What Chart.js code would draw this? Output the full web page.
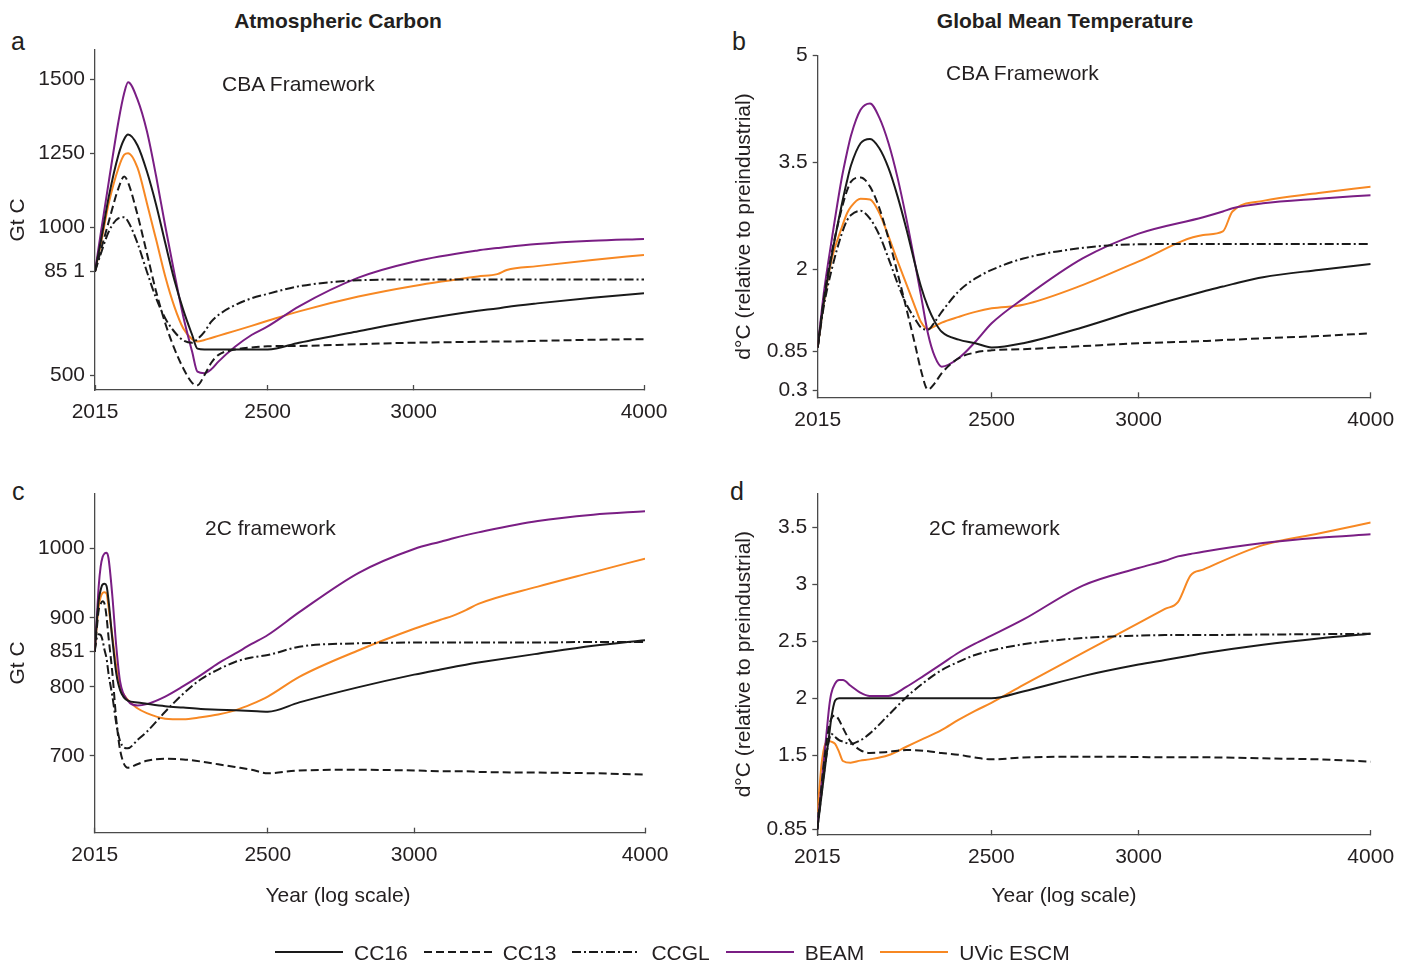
<!DOCTYPE html>
<html>
<head>
<meta charset="utf-8">
<title>Atmospheric Carbon / Global Mean Temperature</title>
<script src="https://cdn.jsdelivr.net/npm/chart.js@4.4.1/dist/chart.umd.min.js"></script>
<style>
    body { margin: 0; background: #fff; font-family: "Liberation Sans", Arial, Helvetica, sans-serif; color: #231f20; }
    #page { position: relative; width: 1410px; height: 964px; overflow: hidden; }
    canvas { position: absolute; }
    .txt { position: absolute; white-space: nowrap; font-size: 21px; line-height: 21px; }
    .title { font-weight: bold; transform: translateX(-50%); }
    .center { transform: translateX(-50%); }
    .letter { font-size: 25px; line-height: 25px; }
    #legend { position: absolute; left: 275px; top: 941.5px; display: flex; align-items: center; font-size: 21px; line-height: 21px; white-space: nowrap; }
    #legend svg { margin-right: 11px; }
    #legend span { margin-right: 16px; }
</style>
</head>
<body>
<div id="page">
    <div class="txt title" style="left:338px; top:10px;">Atmospheric Carbon</div>
    <div class="txt title" style="left:1065px; top:10px;">Global Mean Temperature</div>

    <div class="txt letter" style="left:11px; top:29px;">a</div>
    <div class="txt letter" style="left:732px; top:29px;">b</div>
    <div class="txt letter" style="left:12px; top:479px;">c</div>
    <div class="txt letter" style="left:730px; top:479px;">d</div>

    <canvas id="chartA" width="700" height="430" style="left:0px; top:0px;"></canvas>
    <canvas id="chartB" width="690" height="440" style="left:720px; top:0px;"></canvas>
    <canvas id="chartC" width="700" height="470" style="left:0px; top:450px;"></canvas>
    <canvas id="chartD" width="690" height="470" style="left:720px; top:450px;"></canvas>

    <div class="txt" style="left:222px; top:73px;">CBA Framework</div>
    <div class="txt" style="left:946px; top:62px;">CBA Framework</div>
    <div class="txt" style="left:205px; top:517px;">2C framework</div>
    <div class="txt" style="left:929px; top:517px;">2C framework</div>

    <div class="txt center" style="left:338px; top:884px;">Year (log scale)</div>
    <div class="txt center" style="left:1064px; top:884px;">Year (log scale)</div>

    <div id="legend"></div>
</div>

<script>
const FONT = "'Liberation Sans', Arial, Helvetica, sans-serif";
const INK = "#231f20";
const AXIS = "#4a4a4a";

// years (x, log scale)
const yearsCBA = [2015, 2030, 2050, 2075, 2090, 2100, 2125, 2150, 2175, 2200, 2225, 2250, 2275, 2290, 2310, 2330, 2350, 2400, 2450, 2500, 2600, 2800, 3000, 3250, 3330, 3370, 3500, 3750, 4000];
const years2C = [2015, 2020, 2025, 2030, 2035, 2040, 2045, 2050, 2060, 2070, 2080, 2100, 2125, 2150, 2200, 2250, 2300, 2350, 2400, 2450, 2500, 2600, 2800, 3000, 3100, 3150, 3200, 3250, 3500, 3750, 4000];
const xTicks = [2015, 2500, 3000, 4000];

// a: atmospheric carbon, CBA framework (Gt C)
const cc16A = [851, 955, 1104, 1246, 1299, 1314, 1277, 1189, 1076, 946, 822, 720, 636, 590, 587, 587, 587, 587, 587, 587, 610, 649, 684, 718, 726, 731, 743, 762, 777];
const cc13A = [851, 924, 1020, 1133, 1172, 1152, 1042, 912, 782, 675, 590, 523, 474, 466, 500, 542, 568, 587, 594, 598, 599, 605, 610, 613, 614, 614, 616, 620, 622];
const ccglA = [851, 912, 986, 1031, 1034, 1020, 946, 850, 760, 692, 647, 618, 610, 622, 647, 681, 703, 737, 760, 775, 801, 821, 824, 824, 824, 824, 824, 824, 824];
const beamA = [851, 984, 1155, 1359, 1455, 1491, 1432, 1325, 1172, 1003, 845, 698, 579, 512, 507, 520, 545, 596, 636, 665, 733, 830, 884, 922, 930, 934, 944, 955, 961];
const uvicA = [851, 946, 1082, 1201, 1246, 1251, 1201, 1082, 958, 833, 732, 658, 622, 614, 619, 626, 633, 650, 667, 684, 716, 766, 802, 834, 842, 856, 869, 890, 907];

// b: temperature, CBA framework (d°C)
const cc16B = [0.9, 1.52, 2.18, 2.88, 3.25, 3.46, 3.77, 3.83, 3.70, 3.42, 3.02, 2.55, 2.04, 1.76, 1.47, 1.26, 1.12, 1.01, 0.96, 0.90, 0.96, 1.185, 1.43, 1.686, 1.756, 1.79, 1.887, 1.99, 2.074];
const cc13B = [0.9, 1.57, 2.22, 2.83, 3.11, 3.23, 3.29, 3.16, 2.86, 2.43, 1.94, 1.43, 0.91, 0.585, 0.31, 0.40, 0.54, 0.75, 0.83, 0.86, 0.876, 0.92, 0.96, 0.99, 1.006, 1.01, 1.03, 1.06, 1.10];
const ccglB = [0.9, 1.47, 1.99, 2.48, 2.69, 2.76, 2.82, 2.71, 2.48, 2.15, 1.80, 1.50, 1.29, 1.18, 1.15, 1.26, 1.40, 1.69, 1.87, 1.99, 2.15, 2.30, 2.35, 2.355, 2.355, 2.355, 2.355, 2.355, 2.355];
const beamB = [0.9, 1.65, 2.4, 3.25, 3.65, 3.88, 4.24, 4.33, 4.13, 3.77, 3.28, 2.69, 2.04, 1.64, 1.10, 0.77, 0.63, 0.75, 0.98, 1.24, 1.587, 2.154, 2.5, 2.73, 2.81, 2.856, 2.926, 2.99, 3.04];
const uvicB = [0.9, 1.52, 2.13, 2.57, 2.79, 2.88, 2.99, 2.98, 2.79, 2.46, 2.11, 1.78, 1.45, 1.26, 1.16, 1.20, 1.25, 1.33, 1.40, 1.45, 1.50, 1.78, 2.11, 2.48, 2.53, 2.81, 2.96, 3.07, 3.16];

// c: atmospheric carbon, 2C framework (Gt C)
const cc16C = [851, 892, 925, 940, 948, 949, 946, 925, 868, 819, 795, 780, 777.5, 775.5, 772, 770, 768, 767, 766, 765, 764, 777.5, 799.6, 817.7, 825.2, 828.7, 832.1, 835.1, 848, 859.4, 867.6];
const cc13C = [851, 882, 911, 920, 924, 920, 901, 872, 819, 752, 708, 683, 688, 693, 696, 695, 692, 688, 684, 680, 675, 679, 680, 679, 678, 678, 678, 677, 676, 675, 673];
const ccglC = [851, 870, 876, 875, 867, 853, 841, 819, 786, 747, 721, 711, 723, 735, 764, 790, 811, 825, 836, 842.5, 846, 858, 863, 864, 864, 864, 864, 864, 864, 865, 865];
const beamC = [851, 896, 945, 974, 988, 993, 994, 986, 930, 858, 807, 780, 773, 775, 786, 801, 817, 834, 848, 862, 875, 908, 965, 999.5, 1010, 1015, 1019.5, 1023.5, 1040, 1049, 1054];
const uvicC = [851, 887, 916, 930, 936, 937, 935, 916, 872, 829, 800, 781, 769, 762, 754, 753, 756, 760, 766, 775, 786, 814.5, 853, 884, 897, 903, 911, 920, 945, 966, 985.5];

// d: temperature, 2C framework (d°C)
const cc16D = [0.85, 0.99, 1.13, 1.27, 1.41, 1.55, 1.68, 1.82, 1.98, 2.0, 2.0, 2.0, 2.0, 2.0, 2.0, 2.0, 2.0, 2.0, 2.0, 2.0, 2.0, 2.06, 2.195, 2.296, 2.337, 2.357, 2.376, 2.395, 2.47, 2.525, 2.567];
const cc13D = [0.85, 1.03, 1.21, 1.38, 1.53, 1.66, 1.76, 1.82, 1.85, 1.81, 1.74, 1.62, 1.546, 1.52, 1.53, 1.546, 1.54, 1.52, 1.505, 1.48, 1.464, 1.48, 1.488, 1.485, 1.482, 1.482, 1.482, 1.482, 1.473, 1.464, 1.444];
const ccglD = [0.85, 1.0, 1.15, 1.30, 1.43, 1.55, 1.64, 1.69, 1.66, 1.633, 1.62, 1.60, 1.63, 1.69, 1.85, 2.01, 2.14, 2.246, 2.32, 2.38, 2.42, 2.474, 2.53, 2.55, 2.555, 2.555, 2.555, 2.555, 2.56, 2.563, 2.567];
const beamD = [0.85, 1.04, 1.22, 1.40, 1.58, 1.76, 1.93, 2.04, 2.13, 2.16, 2.16, 2.11, 2.05, 2.02, 2.02, 2.10, 2.20, 2.30, 2.40, 2.48, 2.55, 2.69, 2.99, 3.144, 3.208, 3.246, 3.267, 3.287, 3.363, 3.41, 3.44];
const uvicD = [1.0, 1.196, 1.40, 1.53, 1.60, 1.62, 1.625, 1.62, 1.60, 1.53, 1.45, 1.435, 1.453, 1.464, 1.50, 1.575, 1.648, 1.72, 1.81, 1.89, 1.96, 2.115, 2.40, 2.66, 2.785, 2.844, 3.08, 3.13, 3.345, 3.447, 3.544];

// y ticks
const yTicksA = [500, 851, 1000, 1250, 1500];
const yLabelsA = ["500", "85 1", "1000", "1250", "1500"];
const yTicksB = [0.3, 0.85, 2, 3.5, 5];
const yLabelsB = ["0.3", "0.85", "2", "3.5", "5"];
const yTicksC = [700, 800, 851, 900, 1000];
const yLabelsC = ["700", "800", "851", "900", "1000"];
const yTicksD = [0.85, 1.5, 2, 2.5, 3, 3.5];
const yLabelsD = ["0.85", "1.5", "2", "2.5", "3", "3.5"];

const seriesNames = ["CC16", "CC13", "CCGL", "BEAM", "UVic ESCM"];
const seriesColors = { "CC16": "#1a1a1a", "CC13": "#1a1a1a", "CCGL": "#1a1a1a", "BEAM": "#7a1e84", "UVic ESCM": "#f78823" };
const seriesDash = { "CC16": [], "CC13": [8, 4], "CCGL": [9, 3, 2, 3], "BEAM": [], "UVic ESCM": [] };

Chart.defaults.font.family = FONT;
Chart.defaults.font.size = 21;
Chart.defaults.color = INK;

function buildChart(canvasId, cfg) {
    const datasets = seriesNames.map(name => ({
        label: name,
        data: cfg.values[name].map((v, i) => ({ x: cfg.years[i], y: v })),
        borderColor: seriesColors[name],
        borderDash: seriesDash[name],
        borderWidth: 2,
        pointRadius: 0,
        fill: false,
        cubicInterpolationMode: "monotone"
    }));

    return new Chart(document.getElementById(canvasId), {
        type: "line",
        data: { datasets },
        options: {
            responsive: false,
            animation: false,
            events: [],
            layout: { padding: cfg.padding },
            plugins: { legend: { display: false }, tooltip: { enabled: false } },
            scales: {
                x: {
                    type: "logarithmic",
                    min: 2015,
                    max: 4000,
                    afterBuildTicks: s => { s.ticks = xTicks.map(v => ({ value: v })); },
                    afterFit: s => { s.height = cfg.xHeight; },
                    ticks: { autoSkip: false, maxRotation: 0, padding: 15, color: INK, callback: v => String(v) },
                    grid: { drawOnChartArea: false, tickLength: -5, color: AXIS, tickWidth: 1.3 },
                    border: { color: AXIS, width: 1.3 }
                },
                y: {
                    type: "linear",
                    min: cfg.yMin,
                    max: cfg.yMax,
                    afterBuildTicks: s => { s.ticks = cfg.yTicks.map(v => ({ value: v })); },
                    afterFit: s => { s.width = cfg.yWidth; },
                    ticks: { autoSkip: false, padding: 5, color: INK, callback: v => cfg.yLabels[cfg.yTicks.indexOf(v)] },
                    grid: { drawOnChartArea: false, tickLength: 5, color: AXIS, tickWidth: 1.3 },
                    border: { color: AXIS, width: 1.3 },
                    title: { display: true, text: cfg.yTitle, color: INK, padding: { top: cfg.yTitlePad, bottom: 0 } }
                }
            }
        }
    });
}

buildChart("chartA", {
    years: yearsCBA,
    values: { "CC16": cc16A, "CC13": cc13A, "CCGL": ccglA, "BEAM": beamA, "UVic ESCM": uvicA },
    yMin: 450, yMax: 1600, yTicks: yTicksA, yLabels: yLabelsA,
    yTitle: "Gt C", yTitlePad: 5.4, yWidth: 95, xHeight: 40,
    padding: { top: 50, right: 56, bottom: 0, left: 0 }
});

buildChart("chartB", {
    years: yearsCBA,
    values: { "CC16": cc16B, "CC13": cc13B, "CCGL": ccglB, "BEAM": beamB, "UVic ESCM": uvicB },
    yMin: 0.2, yMax: 5, yTicks: yTicksB, yLabels: yLabelsB,
    yTitle: "d°C (relative to preindustrial)", yTitlePad: 11.4, yWidth: 97.7, xHeight: 42.7,
    padding: { top: 55.7, right: 39.3, bottom: 0, left: 0 }
});

buildChart("chartC", {
    years: years2C,
    values: { "CC16": cc16C, "CC13": cc13C, "CCGL": ccglC, "BEAM": beamC, "UVic ESCM": uvicC },
    yMin: 589, yMax: 1080, yTicks: yTicksC, yLabels: yLabelsC,
    yTitle: "Gt C", yTitlePad: 5.4, yWidth: 94.7, xHeight: 87.3,
    padding: { top: 43.3, right: 55, bottom: 0, left: 0 }
});

buildChart("chartD", {
    years: years2C,
    values: { "CC16": cc16D, "CC13": cc13D, "CCGL": ccglD, "BEAM": beamD, "UVic ESCM": uvicD },
    yMin: 0.8, yMax: 3.8, yTicks: yTicksD, yLabels: yLabelsD,
    yTitle: "d°C (relative to preindustrial)", yTitlePad: 11.4, yWidth: 97.3, xHeight: 85,
    padding: { top: 43.3, right: 39.3, bottom: 0, left: 0 }
});

// legend
const legend = document.getElementById("legend");
seriesNames.forEach(name => {
    const dash = seriesDash[name].length ? seriesDash[name].join(" ") : "none";
    legend.insertAdjacentHTML("beforeend",
        `<svg width="68" height="4"><line x1="0" y1="2" x2="68" y2="2" stroke="${seriesColors[name]}" stroke-width="2" stroke-dasharray="${dash}"/></svg><span>${name}</span>`);
});
</script>
</body>
</html>
